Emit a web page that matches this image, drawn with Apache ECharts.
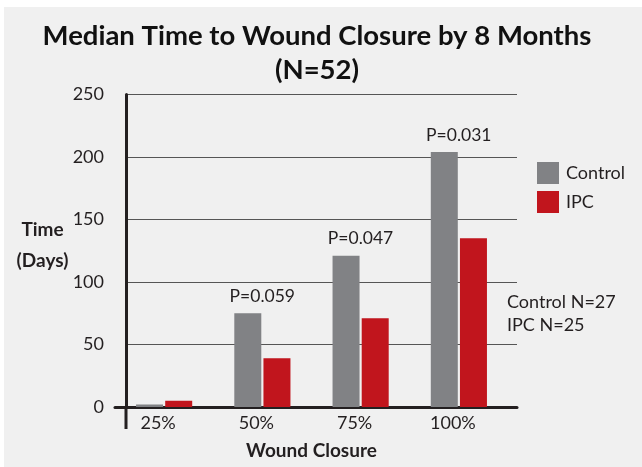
<!DOCTYPE html>
<html><head><meta charset="utf-8">
<script src="https://cdn.jsdelivr.net/npm/echarts@6/dist/echarts.min.js"></script>
<style>
html,body{margin:0;padding:0;background:#fff;}
#c{position:absolute;left:4px;top:7px;width:638px;height:460px;background:#f0f0f0;}
</style></head><body><div id="c"></div>
<script>
const categories = ['25%', '50%', '75%', '100%'];
const controlValues = [2, 75, 121, 204];
const ipcValues = [5, 39, 71, 135];
const pLabels = ['', 'P=0.059', 'P=0.047', 'P=0.031'];
const seriesNames = ['Control', 'IPC'];
const yMin = 0, yMax = 250, yStep = 50;

const FONT = 'Lato';
const INK = '#231f20';
const chart = echarts.init(document.getElementById('c'), null, {renderer: 'canvas'});
const gridTop = 87.5, gridH = 312.5;

const option = {
  backgroundColor: '#f0f0f0',
  animation: false,
  textStyle: {fontFamily: FONT},
  title: {
    text: 'Median Time to Wound Closure by 8 Months\n(N=52)',
    left: 308, top: 7, textAlign: 'center',
    textStyle: {fontFamily: FONT, fontWeight: 'bold', fontSize: 27.5, lineHeight: 34, color: '#111'}
  },
  legend: {
    data: seriesNames, orient: 'vertical', left: 533, top: 155, padding: 0,
    itemWidth: 22, itemHeight: 22, itemGap: 7, icon: 'rect',
    textStyle: {fontFamily: FONT, fontSize: 18, color: INK, padding: [0, 0, 0, 2]}
  },
  grid: [
    {left: 111, width: 393, top: gridTop, height: gridH},
    {left: 122, width: 391, top: gridTop, height: gridH}
  ],
  xAxis: [
    {
      type: 'category', gridIndex: 0, data: categories,
      axisLine: {show: true, lineStyle: {color: INK, width: 3}},
      axisTick: {show: false},
      axisLabel: {fontFamily: FONT, fontSize: 18, color: INK, margin: 7, padding: [0, 12, 0, 0]},
      name: 'Wound Closure', nameLocation: 'middle', nameGap: 34,
      nameTextStyle: {fontFamily: FONT, fontWeight: 'bold', fontSize: 19, color: INK}
    },
    {
      type: 'value', gridIndex: 1, min: 0, max: 1,
      axisLine: {show: true, onZero: false, lineStyle: {color: INK, width: 3}},
      axisTick: {show: false}, axisLabel: {show: false}, splitLine: {show: false}
    }
  ],
  yAxis: [
    {
      type: 'value', gridIndex: 0, min: yMin, max: yMax, interval: yStep,
      axisLine: {show: false}, axisTick: {show: false}, axisLabel: {show: false}, splitLine: {show: false}
    },
    {
      type: 'value', gridIndex: 1, min: yMin, max: yMax, interval: yStep,
      axisLine: {show: true, lineStyle: {color: INK, width: 3}},
      axisTick: {show: false},
      axisLabel: {fontFamily: FONT, fontSize: 18, color: INK, margin: 22},
      splitLine: {show: true, lineStyle: {color: '#555', width: 1}}
    }
  ],
  series: [
    {
      name: seriesNames[0], type: 'bar', xAxisIndex: 0, yAxisIndex: 0,
      data: controlValues, barWidth: 27, barGap: '8%',
      itemStyle: {color: '#818285'},
      label: {
        show: true, position: 'top', distance: 8, offset: [14.5, 0],
        formatter: p => pLabels[p.dataIndex],
        fontFamily: FONT, fontSize: 17.5, color: INK
      }
    },
    {
      name: seriesNames[1], type: 'bar', xAxisIndex: 0, yAxisIndex: 0,
      data: ipcValues, barWidth: 27,
      itemStyle: {color: '#c1151d'}
    }
  ]
};
chart.setOption(option);

const p0 = chart.convertToPixel({xAxisIndex: 1, yAxisIndex: 1}, [0, 0]);
chart.setOption({
  graphic: [
    {type: 'line', shape: {x1: p0[0], y1: p0[1], x2: p0[0], y2: p0[1] + 22},
     style: {stroke: INK, lineWidth: 3}, z: 10},
    {type: 'text', x: 38.5, y: 238.5,
     style: {text: 'Time\n(Days)', fontFamily: FONT, fontWeight: 'bold', fontSize: 19, lineHeight: 31,
             fill: INK, align: 'center', verticalAlign: 'middle'}},
    {type: 'text', x: 503, y: 306.5,
     style: {text: 'Control N=27\nIPC N=25', fontFamily: FONT, fontSize: 18, lineHeight: 23,
             fill: INK, align: 'left', verticalAlign: 'middle'}}
  ]
});
</script></body></html>
